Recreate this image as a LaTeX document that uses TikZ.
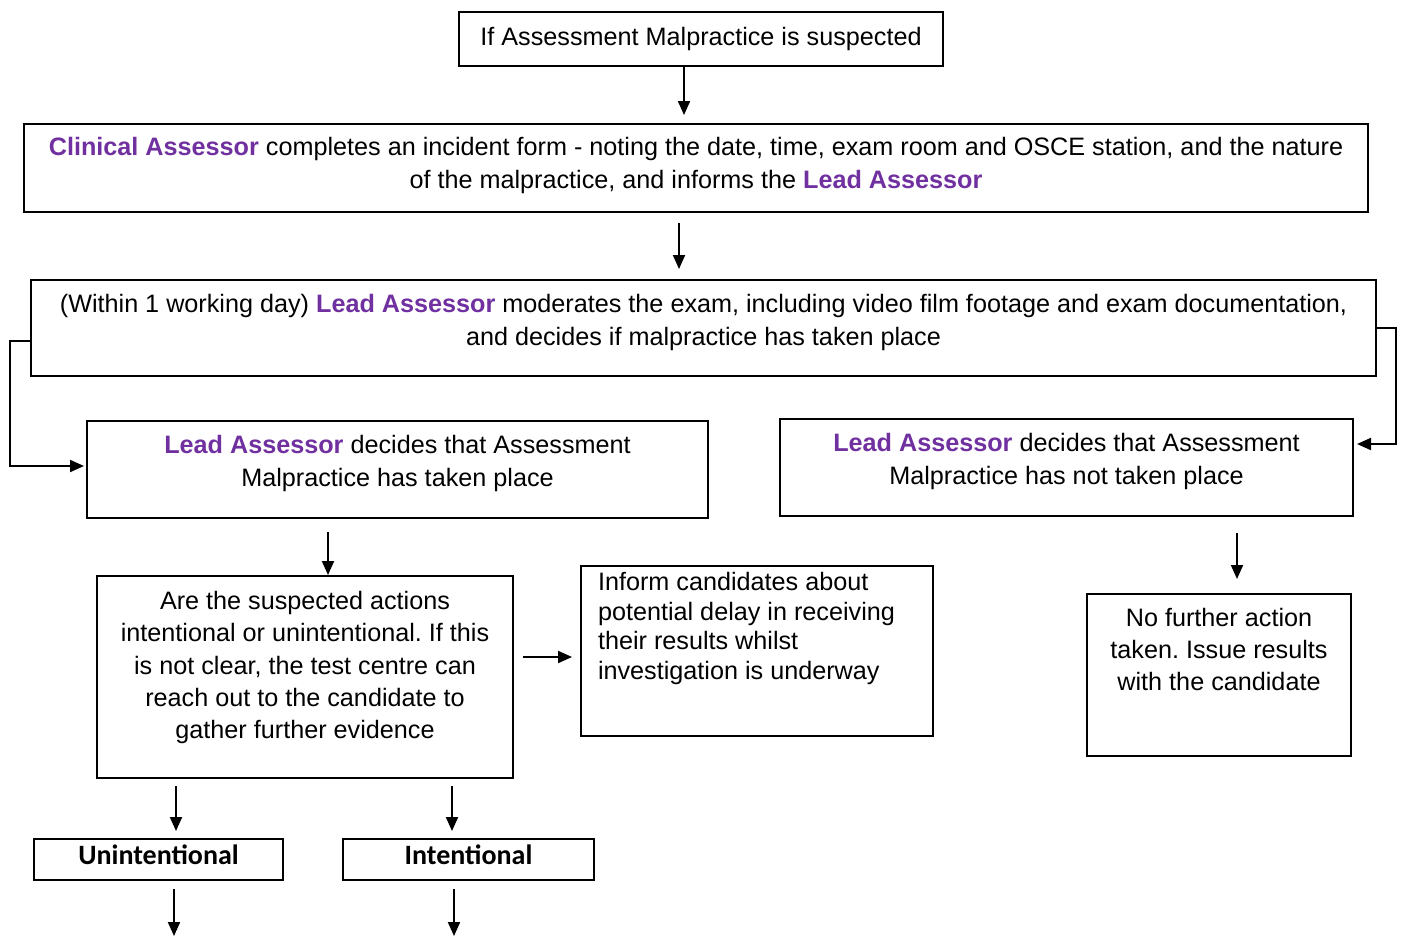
\documentclass[tikz,border=0pt]{standalone}
\usepackage{fontspec}
\setmainfont{Liberation Sans}
\newfontfamily\calfont{Carlito}
\usetikzlibrary{arrows.meta,calc}
\definecolor{purp}{HTML}{7030A0}
\frenchspacing
\newcommand\who[1]{\textbf{\color{purp}#1}}
\newcommand\txt[4]{\parbox[c][#2][c]{#1}{\centering #4\par\vspace{#3}}}

\begin{document}
\begin{tikzpicture}[x=0.5pt, y=-0.5pt, line width=1pt,
    main/.style={draw, inner sep=0pt, font=\fontsize{12.6}{16.5}\selectfont},
    arr/.style={-{Triangle[length=7pt,width=6pt]}}]
  \useasboundingbox (0,0) rectangle (1401,937);
  \node[main] (1) at (701,39) {\txt{242pt}{27pt}{0pt}{If Assessment Malpractice is suspected}};
  \node[main] (2) at (696,168) {\txt{672pt}{44pt}{2.5pt}{\who{Clinical Assessor} completes an incident form - noting the date, time, exam room and OSCE station, and the nature\\ of the malpractice, and informs the \who{Lead Assessor}}};
  \node[main] (3) at (703.5,328) {\txt{672.5pt}{48pt}{5.5pt}{(Within 1 working day) \who{Lead Assessor} moderates the exam, including video film footage and exam documentation,\\ and decides if malpractice has taken place}};
  \node[main] (4) at (397.5,469.5) {\txt{310.5pt}{48.5pt}{6pt}{\who{Lead Assessor} decides that Assessment\\ Malpractice has taken place}};
  \node[main] (5) at (1066.5,467.5) {\txt{286.5pt}{48.5pt}{6pt}{\who{Lead Assessor} decides that Assessment\\ Malpractice has not taken place}};
  \node[main] (6) at (305,677) {\txt{208pt}{101pt}{9.5pt}{\fontsize{12.6}{16.1}\selectfont Are the suspected actions\\ intentional or unintentional. If this\\ is not clear, the test centre can\\ reach out to the candidate to\\ gather further evidence}};
  \node[main] (7) at (757,651) {\parbox[c][85pt][t]{176pt}{\vspace*{3.3pt}\leftskip=8.5pt\fontsize{12.6}{14.7}\selectfont Inform candidates about\\ potential delay in receiving\\ their results whilst\\ investigation is underway}};
  \node[main] (8) at (1219,675) {\txt{132pt}{81pt}{26pt}{\fontsize{12.6}{16}\selectfont No further action\\ taken. Issue results\\ with the candidate}};
  \node[main] (9) at (158.5,859.5) {\txt{124.5pt}{20.5pt}{4.5pt}{\calfont\bfseries\fontsize{14}{16}\selectfont Unintentional}};
  \node[main] (10) at (468.5,859.5) {\txt{125.5pt}{20.5pt}{4.5pt}{\calfont\bfseries\fontsize{14}{16}\selectfont Intentional}};
  \coordinate (u) at (174,936);
  \coordinate (i) at (454,936);
  \draw[arr] ($(1.south)+(-17,0)$) -- ($(2.north)+(-12,-8)$);
  \draw[arr] ($(2.south)+(-17,10)$) -- ($(3.north)+(-24.5,-10)$);
  \draw[arr] ($(3.west)+(0,13)$) -- ++(-20,0) |- ($(4.west)+(-2,-3.5)$);
  \draw[arr] (3.east) -- ++(19,0) |- ($(5.east)+(3,-23.5)$);
  \draw[arr] ($(4.south)+(-69.5,13)$) -- ($(6.north)+(23,0)$);
  \draw[arr] ($(6.east)+(9,-20)$) -- ($(7.west)+(-8,6)$);
  \draw[arr] ($(5.south)+(170.5,16)$) -- ($(8.north)+(18,-14)$);
  \draw[arr] ($(6.south)+(-129,7)$) -- ($(9.north)+(17.5,-7)$);
  \draw[arr] ($(6.south)+(147,7)$) -- ($(10.north)+(-16.5,-7)$);
  \draw[arr] ($(9.south)+(15.5,8)$) -- (u);
  \draw[arr] ($(10.south)+(-14.5,8)$) -- (i);
\end{tikzpicture}
\end{document}
